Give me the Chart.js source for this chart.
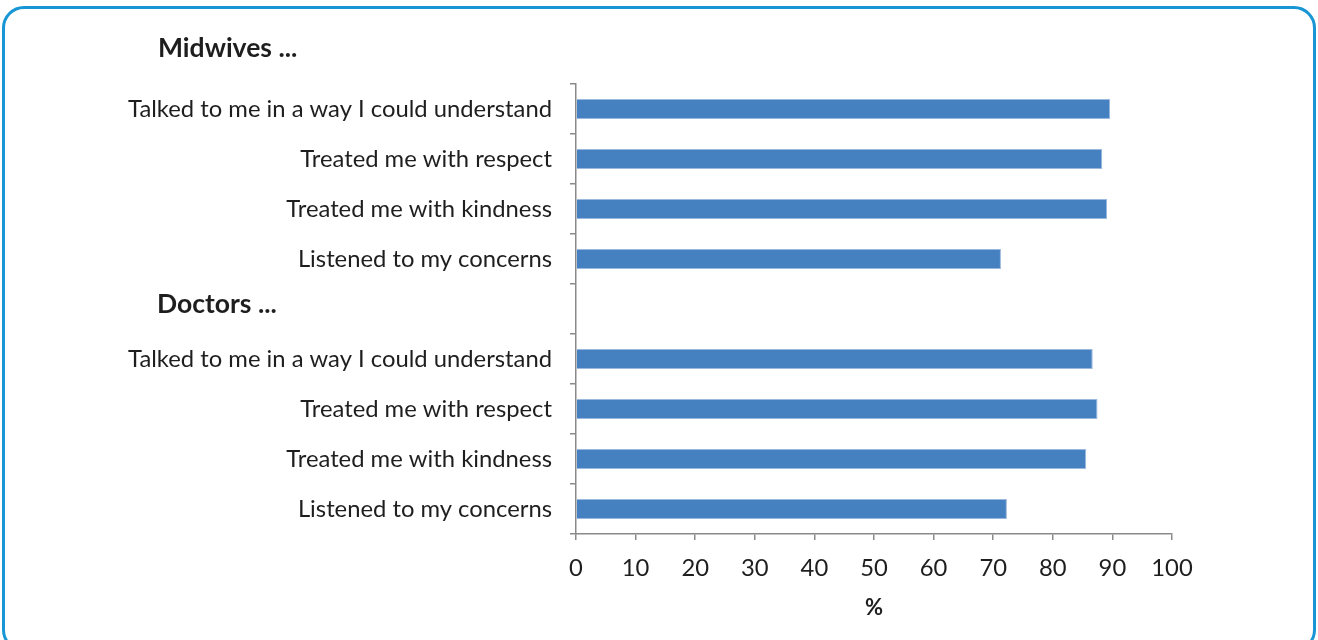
<!DOCTYPE html>
<html>
<head>
  <meta charset="UTF-8">
  <title>Midwives and doctors</title>
  <script src="https://cdn.jsdelivr.net/npm/chart.js"></script>
  <style>
    html, body {
      margin: 0;
      padding: 0;
      background: #fff;
      overflow: hidden;
    }
    #frame {
      position: absolute;
      left: 2px;
      top: 6px;
      width: 1308px;
      height: 640px;
      border: 3px solid #1795d4;
      border-radius: 22px;
    }
    #chart {
      position: absolute;
      left: 0;
      top: 0;
    }
  </style>
</head>
<body>
  <div id="frame"></div>
  <canvas id="chart" width="1318" height="640"></canvas>

  <script>
    // categories (empty slot separates the two groups)
    const categories = [
      "Talked to me in a way I could understand",
      "Treated me with respect",
      "Treated me with kindness",
      "Listened to my concerns",
      "",
      "Talked to me in a way I could understand",
      "Treated me with respect",
      "Treated me with kindness",
      "Listened to my concerns"
    ];
    const midwives = [89.6, 88.3, 89.1, 71.3];
    const doctors = [86.7, 87.5, 85.6, 72.3];
    const values = [...midwives, null, ...doctors];
    const groupHeaders = ["Midwives ...", "Doctors ..."];
    const xTicks = [0, 10, 20, 30, 40, 50, 60, 70, 80, 90, 100];

    const fontFamily = "Lato, 'Open Sans', sans-serif";
    const textColor = "#1e1e1e";
    const axisColor = "#8a8a8a";

    // draws the bold group headings
    const headers = {
      id: "headers",
      afterDraw(chart) {
        const c = chart.ctx;
        const y = chart.scales.y;
        c.save();
        c.font = "bold 26.5px " + fontFamily;
        c.fillStyle = textColor;
        c.textAlign = "left";
        c.textBaseline = "middle";
        c.fillText(groupHeaders[0], 158, chart.chartArea.top - 36);
        c.fillText(groupHeaders[1], 157, y.getPixelForValue(4) - 5);
        c.restore();
      }
    };

    new Chart(document.getElementById("chart"), {
      type: "bar",
      data: {
        labels: categories,
        datasets: [{
          data: values,
          backgroundColor: "#4581c1",
          borderColor: "#9bb8dd",
          borderWidth: 1,
          barPercentage: 0.4,
          categoryPercentage: 1.0
        }]
      },
      options: {
        indexAxis: "y",
        responsive: false,
        animation: false,
        devicePixelRatio: 1,
        layout: { padding: { top: 84, right: 146, left: 0, bottom: 0 } },
        plugins: {
          legend: { display: false },
          tooltip: { enabled: false }
        },
        scales: {
          y: {
            afterFit(scale) { scale.width = 576; },
            grid: {
              offset: true,
              drawOnChartArea: false,
              tickLength: 6,
              color: axisColor,
              lineWidth: 1.5
            },
            border: { color: axisColor, width: 1.5 },
            ticks: {
              padding: 18,
              color: textColor,
              font: { family: fontFamily, size: 23.8 }
            }
          },
          x: {
            min: 0,
            max: 100,
            afterFit(scale) { scale.height = 106; },
            afterBuildTicks(scale) { scale.ticks = xTicks.map(v => ({ value: v })); },
            grid: {
              drawOnChartArea: false,
              tickLength: 6,
              color: axisColor,
              lineWidth: 1.5
            },
            border: { color: axisColor, width: 1.5 },
            ticks: {
              padding: 14,
              color: textColor,
              font: { family: fontFamily, size: 23.8 }
            },
            title: {
              display: true,
              text: "%",
              color: textColor,
              font: { family: fontFamily, size: 22, weight: "bold" },
              padding: { top: 0, bottom: 19 }
            }
          }
        }
      },
      plugins: [headers]
    });
  </script>
</body>
</html>
